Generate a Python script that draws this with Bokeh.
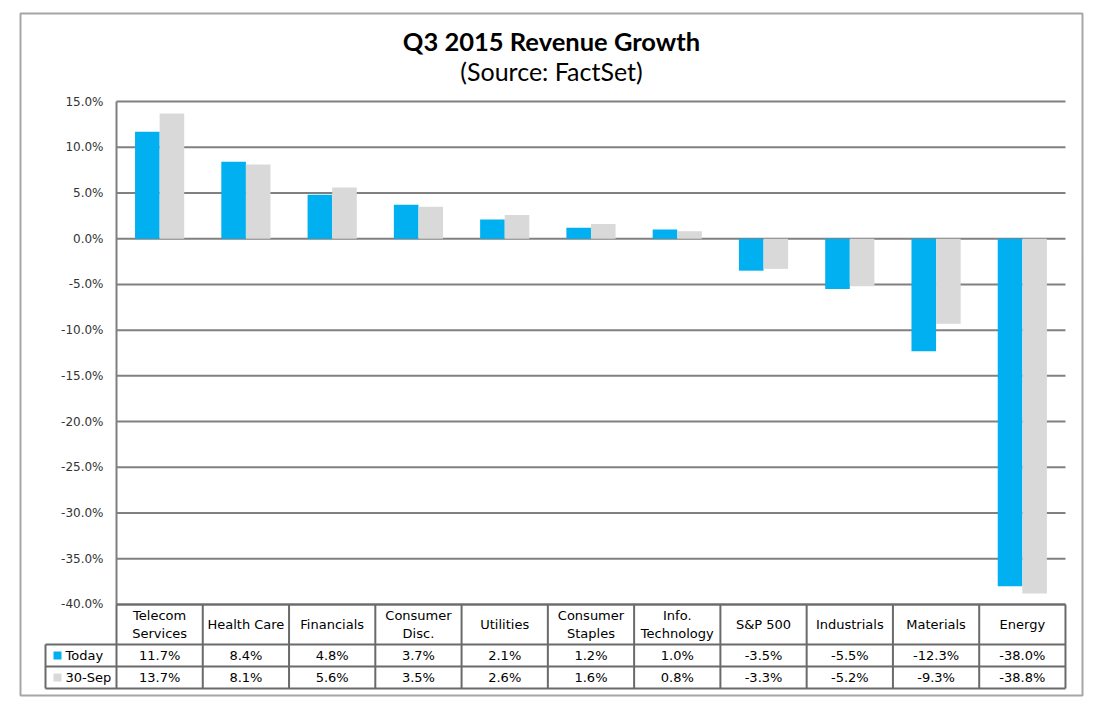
from bokeh.plotting import figure
from bokeh.models import Range1d
from bokeh.core.properties import value
from bokeh.embed import file_html
from bokeh.resources import INLINE

# ---------------- data ----------------
categories = ["Telecom\nServices", "Health Care", "Financials", "Consumer\nDisc.", "Utilities",
              "Consumer\nStaples", "Info.\nTechnology", "S&P 500", "Industrials", "Materials", "Energy"]
today = [11.7, 8.4, 4.8, 3.7, 2.1, 1.2, 1.0, -3.5, -5.5, -12.3, -38.0]
sep30 = [13.7, 8.1, 5.6, 3.5, 2.6, 1.6, 0.8, -3.3, -5.2, -9.3, -38.8]
series_names = ["Today", "30-Sep"]
tick_values = [15, 10, 5, 0, -5, -10, -15, -20, -25, -30, -35, -40]
tick_labels = [f"{t:.1f}%" for t in tick_values]
title_text = "Q3 2015 Revenue Growth"
subtitle_text = "(Source: FactSet)"

# ---------------- layout constants ----------------
W, H = 1107, 711
CAT_PX = 86.27   # pixels per category
X0_PX = 116      # left edge of plot area
PCT_PX = 9.145   # pixels per percent
Y15_PX = 101     # pixel row of the 15% line

def xd(px):
    return (px - X0_PX) / CAT_PX

def yd(py):
    return 15 - (py - Y15_PX) / PCT_PX

C_TODAY = "#00B0F0"
C_SEP = "#D9D9D9"
GRID = "#808080"
TABLE = "#6A6A6A"
FONT = value("DejaVu Sans")

n = len(categories)
centers = [i + 0.5 for i in range(n)]

p = figure(width=W, height=H, x_range=Range1d(xd(0), xd(W)), y_range=Range1d(yd(H), yd(0)),
           output_backend="svg", toolbar_location=None, min_border=0, title=None,
           x_axis_location=None, y_axis_location=None, outline_line_color=None)
p.grid.visible = False
p.background_fill_color = "white"
p.border_fill_color = "white"

# outer border
p.quad(left=[xd(20)], right=[xd(1082)], top=[yd(13)], bottom=[yd(695)],
       fill_color=None, line_color="#A6A6A6", line_width=2)

# title
p.text(x=[xd(551)], y=[yd(40)], text=[title_text], text_align="center", text_baseline="middle",
       text_font=value("Lato"), text_font_style="bold", text_font_size="25.5px", text_color="#000000")
p.text(x=[xd(551)], y=[yd(70)], text=[subtitle_text], text_align="center", text_baseline="middle",
       text_font=value("Lato"), text_font_size="25px", text_color="#000000")

# gridlines
p.segment(x0=[0] * len(tick_values), x1=[n] * len(tick_values), y0=tick_values, y1=tick_values,
          line_color=GRID, line_width=2)
# value axis line
p.segment(x0=[0], x1=[0], y0=[max(tick_values)], y1=[min(tick_values)], line_color=GRID, line_width=2)

# tick labels
p.text(x=[xd(103)] * len(tick_values), y=tick_values, text=tick_labels, text_align="right",
       text_baseline="middle", text_font=FONT, text_font_size="12px", text_color="#333333")

# bars
bw = 0.285
p.vbar(x=[c - bw / 2 for c in centers], top=today, bottom=0, width=bw, fill_color=C_TODAY, line_color=None)
p.vbar(x=[c + bw / 2 for c in centers], top=sep30, bottom=0, width=bw, fill_color=C_SEP, line_color=None)

# data table
y_top, y_h, y_r1, y_bot = yd(604), yd(644), yd(666), yd(688)
x_left = xd(45)
# vertical lines
p.segment(x0=list(range(n + 1)), x1=list(range(n + 1)), y0=[y_top] * (n + 1), y1=[y_bot] * (n + 1),
          line_color=TABLE, line_width=2)
p.segment(x0=[x_left], x1=[x_left], y0=[y_h], y1=[y_bot], line_color=TABLE, line_width=2)
# horizontal lines
p.segment(x0=[0], x1=[n], y0=[y_top], y1=[y_top], line_color=TABLE, line_width=2)
p.segment(x0=[x_left] * 3, x1=[n] * 3, y0=[y_h, y_r1, y_bot], y1=[y_h, y_r1, y_bot],
          line_color=TABLE, line_width=2)

# header labels
p.text(x=centers, y=[yd(624)] * n, text=categories, text_align="center", text_baseline="middle",
       text_font=FONT, text_font_size="13px", text_color="#000000", text_line_height=1.2)
# row values
row_y = [yd(655), yd(677)]
for vals, ry in zip([today, sep30], row_y):
    p.text(x=centers, y=[ry] * n, text=[f"{v:.1f}%" for v in vals], text_align="center",
           text_baseline="middle", text_font=FONT, text_font_size="13px", text_color="#000000")

# legend keys in the table
p.scatter(x=[xd(57)] * 2, y=row_y, marker="square", size=8, fill_color=[C_TODAY, C_SEP], line_color=None)
p.text(x=[xd(65)] * 2, y=row_y, text=series_names, text_align="left", text_baseline="middle",
       text_font=FONT, text_font_size="13px", text_color="#000000")

open("out.html", "w").write(file_html(p, INLINE))
